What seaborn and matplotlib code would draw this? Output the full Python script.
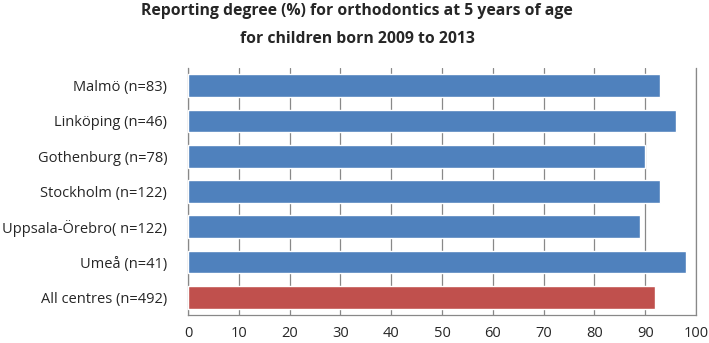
import numpy as np
import pandas as pd
import matplotlib
matplotlib.use('Agg')
import matplotlib.pyplot as plt
import seaborn as sns

centres = ["Malmö (n=83)", "Linköping (n=46)", "Gothenburg (n=78)", "Stockholm (n=122)",
           "Uppsala-Örebro( n=122)", "Umeå (n=41)", "All centres (n=492)"]
reporting = [93, 96, 90, 93, 89, 98, 92]
group = ["centre", "centre", "centre", "centre", "centre", "centre", "all"]

df = pd.DataFrame({"Centre": centres, "Reporting": reporting, "Group": group})

sns.set_style("white")
plt.rcParams['font.family'] = ['Open Sans', 'DejaVu Sans']

fig = plt.figure(figsize=(7.09, 3.43), dpi=100)
# plot area in pixels: left 188, right 696, top 68, bottom 315
ax = fig.add_axes([188 / 709, 1 - 315 / 343, 508 / 709, 247 / 343])

sns.barplot(data=df, x="Reporting", y="Centre", hue="Group",
            palette={"centre": "#4F81BD", "all": "#C0504D"}, saturation=1,
            dodge=False, width=0.64, legend=False, ax=ax, zorder=3)

ax.set_xlim(0, 100)
ax.set_xticks(np.arange(0, 101, 10))
ax.set_xlabel("")
ax.set_ylabel("")
ax.grid(axis='x', color='#888888', linewidth=0.9, zorder=0)
ax.set_axisbelow(True)
ax.tick_params(axis='x', direction='out', length=4, color='#888888', labelsize=10.5, pad=4)
ax.tick_params(axis='y', length=0, labelsize=10.5, pad=15)
for s in ['left', 'right', 'bottom']:
    ax.spines[s].set_color('#888888')
    ax.spines[s].set_linewidth(0.9)
ax.spines['top'].set_visible(False)

title_x = 357 / 709
fig.text(title_x, 1 - 15 / 343, "Reporting degree (%) for orthodontics at 5 years of age",
         ha='center', va='baseline', fontsize=11.3, fontweight='bold')
fig.text(title_x, 1 - 43 / 343, "for children born 2009 to 2013",
         ha='center', va='baseline', fontsize=11.3, fontweight='bold')

fig.savefig("out.png", dpi=100)
